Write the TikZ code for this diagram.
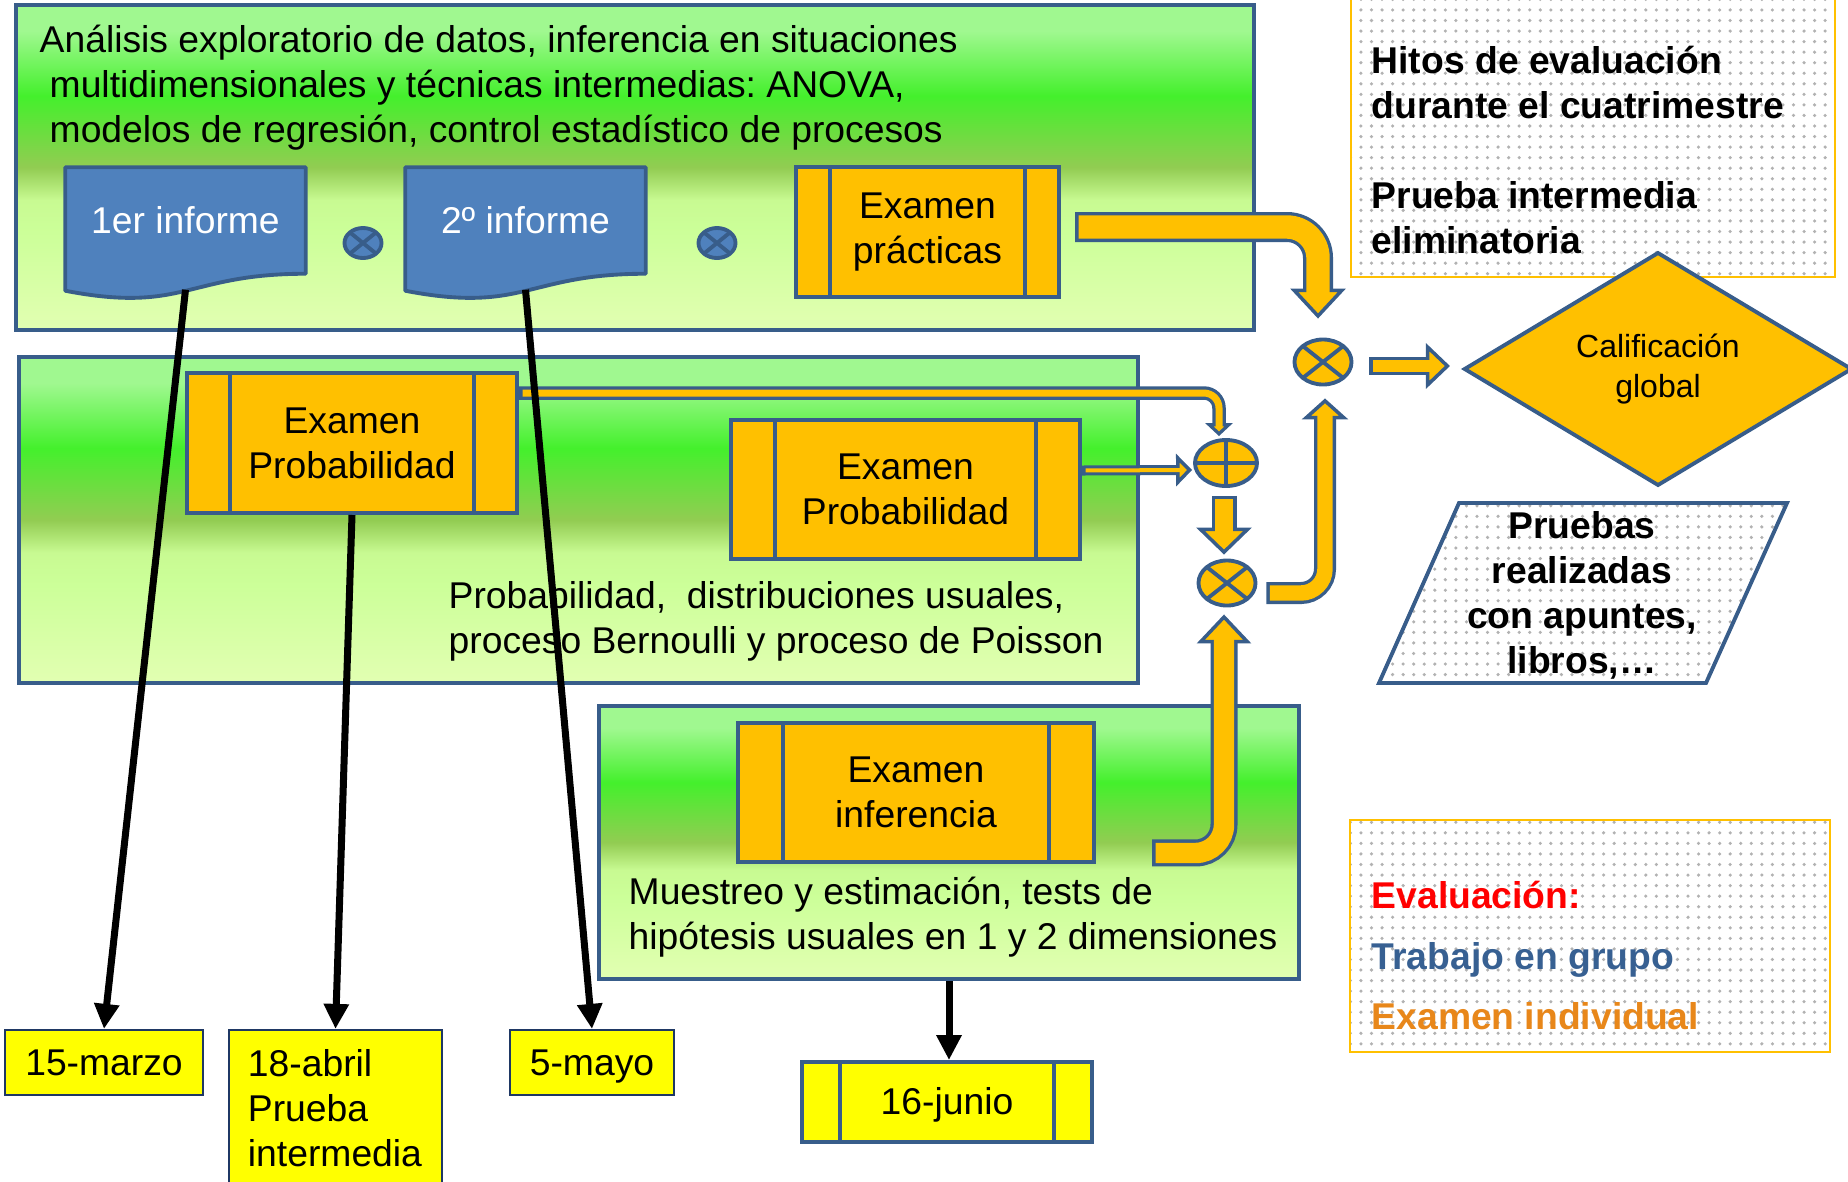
\documentclass[tikz,border=0pt]{standalone}
\usepackage{fontspec}
\setmainfont{Liberation Sans}
\usetikzlibrary{calc,shapes.geometric,arrows.meta,patterns}
\frenchspacing

\definecolor{edge}{RGB}{56,93,138}
\definecolor{gold}{RGB}{255,192,0}
\definecolor{docblue}{RGB}{79,129,189}
\definecolor{datey}{RGB}{255,255,0}
\definecolor{navy}{RGB}{31,56,100}
\definecolor{legblue}{RGB}{55,96,146}
\definecolor{legorange}{RGB}{232,135,26}
\definecolor{bandtop}{RGB}{160,248,144}
\definecolor{bandmid}{RGB}{68,240,44}
\definecolor{bandolive}{RGB}{146,204,82}
\definecolor{bandlight}{RGB}{200,250,146}
\definecolor{bandlow}{RGB}{204,255,153}
\definecolor{bandbot}{RGB}{226,255,178}

\pgfdeclareverticalshading{bandfill}{100bp}{color(0bp)=(bandbot); color(25bp)=(bandbot); color(40bp)=(bandlow); color(45bp)=(bandlight); color(50bp)=(bandolive); color(61bp)=(bandmid); color(71bp)=(bandtop); color(75bp)=(bandtop); color(100bp)=(bandtop)}

\newcommand{\bodysize}{\fontsize{10.6}{12.8}\selectfont}

\begin{document}
\begin{tikzpicture}[x=0.01cm,y=-0.01cm,font=\bodysize,
  band/.style={rectangle,draw=edge,line width=1.2pt,shade,shading=bandfill,inner sep=0pt},
  txt/.style={inner sep=0pt,align=left},
  doc/.style={draw=edge,fill=docblue,line width=1.1pt,line join=round},
  proc/.style={rectangle,draw=edge,fill=gold,line width=1.1pt,align=center,inner sep=0pt,
    path picture={\draw[edge,line width=1.1pt]
      ([xshift=#1]path picture bounding box.north west) -- ([xshift=#1]path picture bounding box.south west)
      ([xshift=-#1]path picture bounding box.north east) -- ([xshift=-#1]path picture bounding box.south east);}},
  sumx/.style={ellipse,draw=edge,fill=gold,line width=1.1pt,inner sep=0pt,minimum width=0.57cm,minimum height=0.45cm,
    path picture={\draw[edge,line width=1.1pt]
      (path picture bounding box.north west) -- (path picture bounding box.south east)
      (path picture bounding box.south west) -- (path picture bounding box.north east);}},
  sumplus/.style={ellipse,draw=edge,fill=gold,line width=1.1pt,inner sep=0pt,minimum width=0.62cm,minimum height=0.46cm,
    path picture={\draw[edge,line width=1.1pt]
      (path picture bounding box.north) -- (path picture bounding box.south)
      (path picture bounding box.west) -- (path picture bounding box.east);}},
  blockarr/.style n args={6}{draw=edge,line width=#1,rounded corners=#5,
    -{Triangle[width=#3 0,length=#4 0,fill=gold,line width=1pt 0]},
    postaction={draw=gold,line width=#2,-,shorten <=1pt,shorten >=#6}},
  hitoarrow/.style={line width=0.07cm,-{Triangle[width=0.24cm 0,length=0.25cm 0]}},
  notebox/.style={rectangle,draw=gold,line width=0.7pt,pattern=dots,pattern color=gray!60,inner sep=0pt},
  datebox/.style={rectangle,draw=navy,fill=datey,line width=0.6pt,inner sep=0pt},
  dateone/.style={datebox,text height=0.72em,text depth=0pt}]

\useasboundingbox (0,0) rectangle (1848,1181);

\node[notebox,minimum width=4.84cm,minimum height=2.82cm] (hitos) at (1593,136) {};
\node[txt,anchor=west,font=\bodysize\bfseries] (hitostxt) at (1371,150)
  {Hitos de evaluación\\durante el cuatrimestre\\[12.8pt]Prueba intermedia\\eliminatoria};

\node[band,minimum width=12.38cm,minimum height=3.25cm] (band1) at (635,167.5) {};
\node[band,minimum width=11.19cm,minimum height=3.26cm] (band2) at (578.5,520) {};
\node[band,minimum width=7.00cm,minimum height=2.73cm] (band3) at (949,842.5) {};

\node[txt,anchor=west] (band1txt) at (39,88) {Análisis exploratorio de datos, inferencia en situaciones\\\hspace*{0.1cm}multidimensionales y técnicas intermedias: ANOVA,\\\hspace*{0.1cm}modelos de regresión, control estadístico de procesos};

\node[minimum width=2.39cm,minimum height=1.05cm] (inf1) at (185.5,220.5) {};
\draw[doc] (inf1.north west) -- (inf1.north east) -- (inf1.south east)
  .. controls +(-119.5,0) and +(119.5,23) .. ($(inf1.south west)+(0,17)$) -- cycle;
\node[text=white] (inf1txt) at (inf1) {1er informe};

\node[minimum width=2.39cm,minimum height=1.05cm] (inf2) at (525.5,220.5) {};
\draw[doc] (inf2.north west) -- (inf2.north east) -- (inf2.south east)
  .. controls +(-119.5,0) and +(119.5,23) .. ($(inf2.south west)+(0,17)$) -- cycle;
\node[text=white] (inf2txt) at (inf2) {2º informe};

\node[sumx,fill=docblue,minimum width=0.37cm,minimum height=0.30cm] (blue1) at (363,243) {};
\node[sumx,fill=docblue,minimum width=0.37cm,minimum height=0.30cm] (blue2) at (717,243) {};

\node[proc=0.34cm,minimum width=2.63cm,minimum height=1.30cm] (exprac) at (927.5,232) {Examen\\prácticas};

\node[proc=0.43cm,minimum width=3.30cm,minimum height=1.40cm] (prob1) at (352,443) {Examen\\Probabilidad};
\node[proc=0.44cm,minimum width=3.49cm,minimum height=1.39cm] (prob2) at (905.5,489.5) {Examen\\Probabilidad};
\node[txt,anchor=west] (band2txt) at (448,621) {Probabilidad,\ \ distribuciones usuales,\\proceso Bernoulli y proceso de Poisson};

\node[proc=0.45cm,minimum width=3.56cm,minimum height=1.39cm] (infer) at (916,792.5) {Examen\\inferencia};
\node[txt,anchor=west] (band3txt) at (628,917.5) {Muestreo y estimación, tests de\\hipótesis usuales en 1 y 2 dimensiones};

\node[sumx] (sum1) at (1323,362) {};
\node[sumplus] (plus) at (1226,463) {};
\node[sumx] (sum2) at (1227,583) {};

\draw[blockarr={0.30cm}{0.234cm}{0.55cm}{0.30cm}{0.31cm}{0.25cm}] ($(exprac.east)+(14,-5)$) -| ($(sum1.north)+(-5,-19)$);
\draw[blockarr={0.135cm}{0.07cm}{0.27cm}{0.13cm}{0.15cm}{0.09cm}] ($(prob1.north east)+(0,22)$) -| ($(plus.north)+(-7,-2)$);
\draw[blockarr={0.10cm}{0.04cm}{0.32cm}{0.16cm}{0pt}{0.12cm}] ($(prob2.east)+(0,-19)$) -- ($(plus.west)+(-1,7)$);
\draw[blockarr={0.25cm}{0.184cm}{0.55cm}{0.27cm}{0pt}{0.22cm}] ($(plus.south)+(-2,8)$) -- ($(sum2.north)+(-3,-4)$);
\draw[blockarr={0.22cm}{0.154cm}{0.46cm}{0.21cm}{0.24cm}{0.16cm}] ($(sum2.east)+(9,10)$) -| ($(sum1.south)+(2,12)$);
\draw[blockarr={0.27cm}{0.204cm}{0.54cm}{0.29cm}{0.285cm}{0.24cm}] ($(infer.south east)+(56,-11)$) -| ($(sum2.south)+(-3,7)$);

\node[diamond,draw=edge,fill=gold,line width=1.1pt,minimum width=3.88cm,minimum height=2.32cm,inner sep=0pt,
  align=center,font=\fontsize{9.1}{11.3}\selectfont] (calif) at (1658,369) {Calificación\\global};
\draw[blockarr={0.18cm}{0.114cm}{0.45cm}{0.24cm}{0pt}{0.19cm}] ($(sum1.east)+(16,4)$) -- ($(calif.west)+(-12,-3)$);

\draw[draw=edge,line width=1.1pt,pattern=dots,pattern color=gray!60] (1459,503) -- (1787,503) -- (1706,683) -- (1379,683) -- cycle;
\node[align=center,inner sep=0pt,font=\bodysize\bfseries] (pruebas) at (1582,595) {Pruebas\\realizadas\\con apuntes,\\libros,…};

\node[notebox,minimum width=4.80cm,minimum height=2.32cm] (legend) at (1590,936) {};
\node[txt,anchor=west,font=\bodysize\bfseries] (legendtxt) at (1371,955.5)
  {\textcolor{red}{Evaluación:}\\[4.5pt]\textcolor{legblue}{Trabajo en grupo}\\[4.5pt]\textcolor{legorange}{Examen individual}};

\node[dateone,minimum width=1.98cm,minimum height=0.65cm] (d15) at (104,1062.5) {15-marzo};
\node[datebox,minimum width=2.13cm,minimum height=1.56cm,text width=1.75cm,align=left] (d18) at (335.5,1108) {18-abril\\Prueba\\intermedia};
\node[dateone,minimum width=1.64cm,minimum height=0.65cm] (d05) at (592,1062.5) {5-mayo};
\node[proc=0.38cm,fill=datey,text height=0.72em,text depth=0pt,minimum width=2.90cm,minimum height=0.80cm] (d16) at (947,1102) {16-junio};

\draw[hitoarrow] ($(inf1.south)+(0,16)$) -- (d15.north);
\draw[hitoarrow] (prob1.south) -- (d18.north);
\draw[hitoarrow] ($(inf2.south)+(0,16)$) -- (d05.north);
\draw[hitoarrow] (band3.south) -- (band3.south |- d16.north);

\end{tikzpicture}
\end{document}
